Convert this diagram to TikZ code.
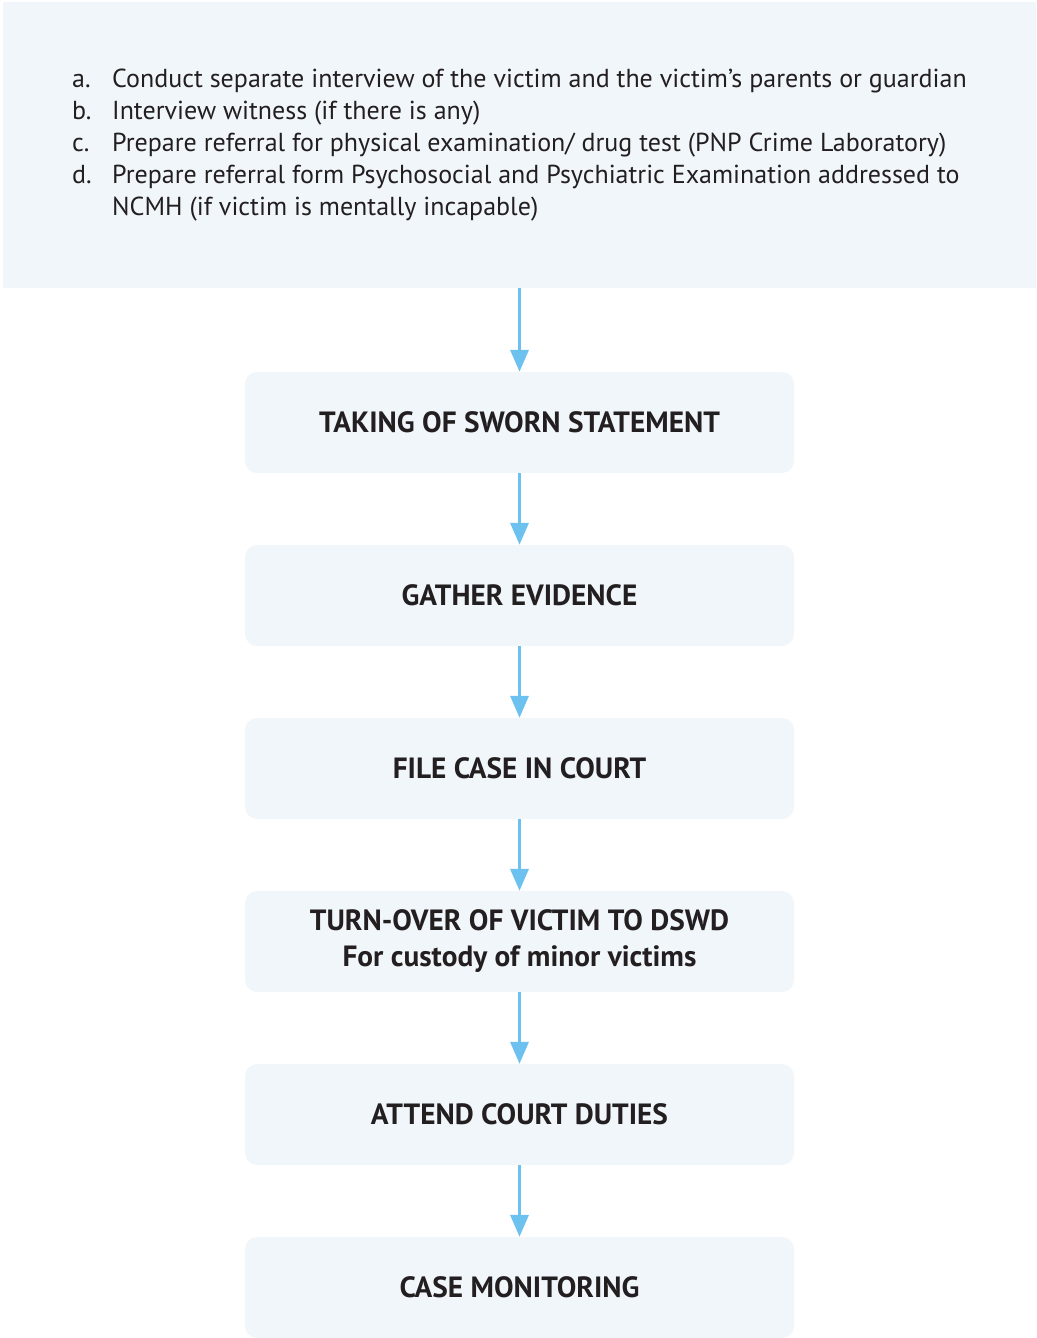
\documentclass[tikz,border=0pt]{standalone}
\usepackage{fontspec}
\setmainfont{PT Sans}
\usetikzlibrary{positioning,arrows.meta}

\definecolor{boxfill}{HTML}{F1F6FB}
\definecolor{flowblue}{HTML}{6CC1EE}
\definecolor{inkblack}{HTML}{231F20}
\newcommand{\itemlbl}[1]{\makebox[40pt][l]{#1}}

\tikzset{
  stepbox/.style={fill=boxfill, rounded corners=12pt, minimum width=549pt,
    minimum height=101pt, align=center, text=inkblack,
    font=\bfseries\fontsize{29.3}{36}\selectfont},
  flow/.style={draw=flowblue, line width=3.5pt,
    -{Triangle[length=22pt,width=18pt]}}
}

\begin{document}
\begin{tikzpicture}[x=1pt,y=-1pt,node distance=71.6pt]
\useasboundingbox (0,0) rectangle (1036,1338);

\node[fill=boxfill, minimum width=1033pt, minimum height=285pt,
  inner xsep=69pt, align=left, text=inkblack,
  font=\fontsize{26}{32}\selectfont] (tasks) at (519.5,145)
  {\itemlbl{a.}Conduct separate interview of the victim and the victim\symbol{39}s parents or guardian\\
   \itemlbl{b.}Interview witness (if there is any)\\
   \itemlbl{c.}Prepare referral for physical examination/ drug test (PNP Crime Laboratory)\\
   \itemlbl{d.}Prepare referral form Psychosocial and Psychiatric Examination addressed to\\
   \itemlbl{}NCMH (if victim is mentally incapable)};

\node[stepbox] (sworn) at (519.5,422.5) {TAKING OF SWORN STATEMENT};
\node[stepbox, below=of sworn] (evidence) {GATHER EVIDENCE};
\node[stepbox, below=of evidence] (filecase) {FILE CASE IN COURT};
\node[stepbox, below=of filecase] (turnover) {TURN-OVER OF VICTIM TO DSWD\\For custody of minor victims};
\node[stepbox, below=of turnover] (duties) {ATTEND COURT DUTIES};
\node[stepbox, below=of duties] (monitoring) {CASE MONITORING};

\draw[flow] (tasks) -- (sworn);
\draw[flow] (sworn) -- (evidence);
\draw[flow] (evidence) -- (filecase);
\draw[flow] (filecase) -- (turnover);
\draw[flow] (turnover) -- (duties);
\draw[flow] (duties) -- (monitoring);
\end{tikzpicture}
\end{document}
